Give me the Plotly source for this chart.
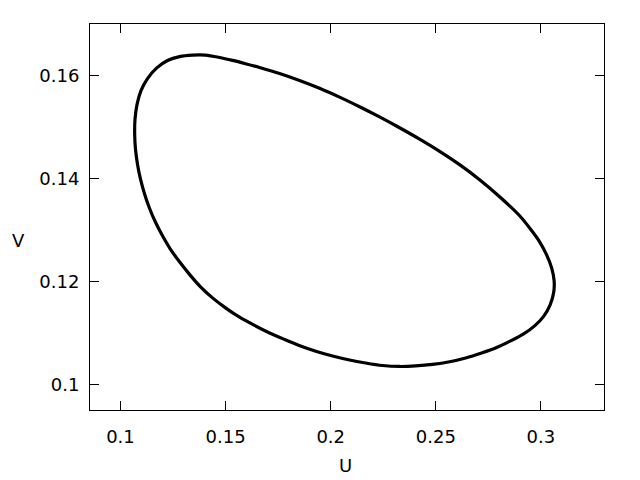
import plotly.graph_objects as go

U = [0.13426, 0.14045, 0.14711, 0.15330, 0.15948, 0.16614, 0.17566, 0.18518, 0.19469, 0.20421,
     0.21373, 0.22325, 0.23276, 0.24228, 0.25180, 0.26131, 0.27083, 0.28035, 0.28986, 0.29510,
     0.29938, 0.30271, 0.30509, 0.30628, 0.30604, 0.30438, 0.30129, 0.29700, 0.29177, 0.28558,
     0.27892, 0.27178, 0.26417, 0.25656, 0.24847, 0.24038, 0.23276, 0.22467, 0.21658, 0.20897,
     0.20088, 0.19327, 0.18565, 0.17804, 0.17090, 0.16376, 0.15663, 0.14996, 0.14378, 0.13807,
     0.13283, 0.12808, 0.12379, 0.11999, 0.11666, 0.11380, 0.11142, 0.10952, 0.10809, 0.10714,
     0.10676, 0.10690, 0.10785, 0.10976, 0.11285, 0.11713, 0.12237, 0.12808, 0.13426]
V = [0.16406, 0.16406, 0.16359, 0.16302, 0.16238, 0.16164, 0.16047, 0.15911, 0.15759, 0.15587,
     0.15400, 0.15202, 0.14991, 0.14769, 0.14532, 0.14273, 0.13980, 0.13649, 0.13279, 0.13016,
     0.12772, 0.12519, 0.12266, 0.12013, 0.11779, 0.11545, 0.11321, 0.11136, 0.10980, 0.10844,
     0.10717, 0.10610, 0.10512, 0.10438, 0.10386, 0.10357, 0.10347, 0.10366, 0.10415, 0.10473,
     0.10551, 0.10639, 0.10746, 0.10873, 0.10999, 0.11146, 0.11305, 0.11487, 0.11681, 0.11896,
     0.12139, 0.12383, 0.12626, 0.12889, 0.13152, 0.13425, 0.13707, 0.13990, 0.14282, 0.14574,
     0.14857, 0.15149, 0.15441, 0.15714, 0.15948, 0.16152, 0.16299, 0.16376, 0.16406]

x_ticks = [0.1, 0.15, 0.2, 0.25, 0.3]
x_labels = ["0.1", "0.15", "0.2", "0.25", "0.3"]
y_ticks = [0.1, 0.12, 0.14, 0.16]
y_labels = ["0.1", "0.12", "0.14", "0.16"]

FONT = dict(family="DejaVu Sans", size=18, color="black")

fig = go.Figure()
fig.add_trace(go.Scatter(x=U, y=V, mode="lines",
                         line=dict(color="black", width=3.2, shape="spline", smoothing=0.8),
                         showlegend=False, hoverinfo="skip"))

axis_common = dict(showgrid=False, zeroline=False, showline=True, linecolor="black",
                   linewidth=1, mirror="allticks", ticks="inside", ticklen=9,
                   tickwidth=1, tickcolor="black", tickfont=FONT)

fig.update_layout(
    width=640, height=480,
    margin=dict(l=90, r=36, t=24, b=70),
    paper_bgcolor="white", plot_bgcolor="white",
    xaxis=dict(range=[0.0855, 0.33], tickvals=x_ticks, ticktext=x_labels,
               ticklabelstandoff=10, **axis_common),
    yaxis=dict(range=[0.095, 0.1701], tickvals=y_ticks, ticktext=y_labels,
               ticklabelstandoff=6, **axis_common),
    annotations=[
        dict(text="U", x=0.498, y=-0.1425, xref="paper", yref="paper", showarrow=False,
             font=FONT, xanchor="center", yanchor="middle"),
        dict(text="V", x=-0.140, y=0.4404, xref="paper", yref="paper", showarrow=False,
             font=FONT, xanchor="center", yanchor="middle"),
    ],
)

fig.write_html("out.html", config={"displayModeBar": False},
               post_script="document.body.style.margin='0';")
